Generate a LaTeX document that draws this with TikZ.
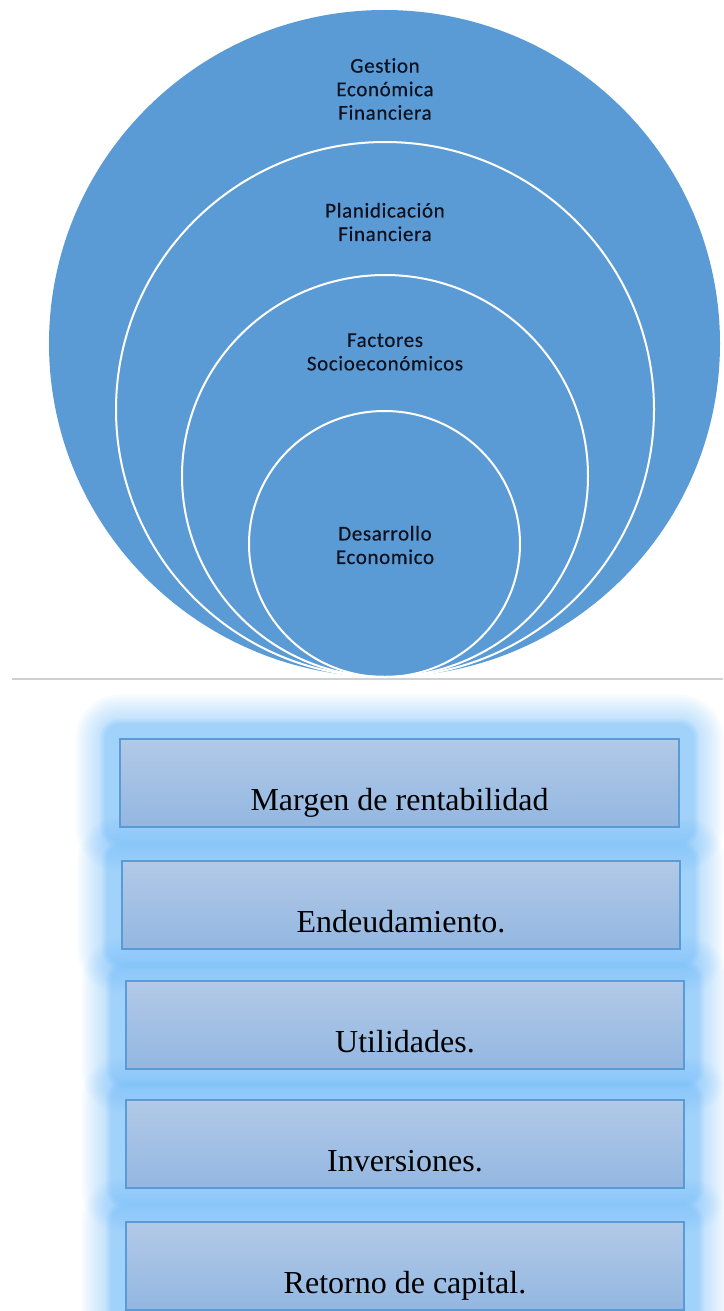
\documentclass[tikz,border=0pt]{standalone}
\usepackage{fontspec}
\setmainfont{Liberation Serif}
\newfontfamily\calib[LetterSpace=3,Ligatures=NoCommon,FakeBold=0.4]{Carlito}
\usetikzlibrary{shapes.geometric,backgrounds}
\definecolor{circfill}{RGB}{91,155,213}
\definecolor{boxtop}{RGB}{178,201,231}
\definecolor{boxbot}{RGB}{147,183,225}
\definecolor{boxline}{RGB}{91,155,213}
\definecolor{glowc}{RGB}{110,185,248}
\definecolor{rulegray}{RGB}{208,208,208}
\definecolor{txt}{RGB}{15,18,30}
\tikzset{
  outerdisc/.style={ellipse, fill=circfill, draw=none, inner sep=0pt},
  ring/.style={ellipse, draw=white, line width=2pt, inner sep=0pt},
  ctext/.style={text=txt, align=center, inner sep=0pt, font=\calib\fontsize{21}{23.5}\selectfont},
  stagebox/.style={rectangle, draw=boxline, line width=1.2pt, top color=boxtop, bottom color=boxbot, minimum height=88pt, inner sep=0pt},
  btext/.style={text=black, inner sep=0pt, anchor=base, font=\fontsize{32}{36}\selectfont},
  rule/.style={draw=rulegray, line width=2.8pt}
}
\begin{document}
\begin{tikzpicture}[x=1pt,y=-1pt]
\useasboundingbox (0,0) rectangle (723,1311);
\clip (0,0) rectangle (723,1311);
% horizontal rule
\coordinate (r1) at (12,679);
\coordinate (r2) at (723,679);
\draw[rule] (r1) -- (r2);
% nested circles
\node[outerdisc, minimum width=671pt, minimum height=667pt] (c1) at (384.5,343.5) {};
\node[ring, minimum width=538pt, minimum height=535pt] (c2) at (385,409.5) {};
\node[ring, minimum width=406pt, minimum height=402pt] (c3) at (385,476) {};
\node[ring, minimum width=271pt, minimum height=266pt] (c4) at (384.5,544) {};
\node[ctext] (t1) at (385,89) {Gestion\\Económica\\Financiera};
\node[ctext] (t2) at (385,222) {Planidicación\\Financiera};
\node[ctext] (t3) at (385,352) {Factores\\Socioeconómicos};
\node[ctext] (t4) at (385,545) {Desarrollo\\Economico};
% boxes
\node[stagebox, minimum width=559pt] (b1) at (399.5,783) {};
\node[stagebox, minimum width=558pt] (b2) at (401,905) {};
\node[stagebox, minimum width=558pt] (b3) at (405,1025) {};
\node[stagebox, minimum width=558pt] (b4) at (405,1144) {};
\node[stagebox, minimum width=558pt] (b5) at (405,1266) {};
\begin{scope}[on background layer]
\foreach \b in {b1,b2,b3,b4,b5} {
  \foreach \e in {14,15,16,17,18,19,20} {
    \fill[glowc, opacity=0.08, rounded corners=\e pt] ([shift={(-\e,-\e)}]\b.north west) rectangle ([shift={(\e,\e)}]\b.south east);
  }
  \foreach \e in {22,24,...,44} {
    \fill[glowc, opacity=0.04, rounded corners=\e pt] ([shift={(-\e,-\e)}]\b.north west) rectangle ([shift={(\e,\e)}]\b.south east);
  }
}
\end{scope}
\node[btext] (l1) at ([shift={(0,72)}]b1.north) {Margen de rentabilidad};
\node[btext] (l2) at ([shift={(0,72)}]b2.north) {Endeudamiento.};
\node[btext] (l3) at ([shift={(0,72)}]b3.north) {Utilidades.};
\node[btext] (l4) at ([shift={(0,72)}]b4.north) {Inversiones.};
\node[btext] (l5) at ([shift={(0,72)}]b5.north) {Retorno de capital.};
\end{tikzpicture}
\end{document}
